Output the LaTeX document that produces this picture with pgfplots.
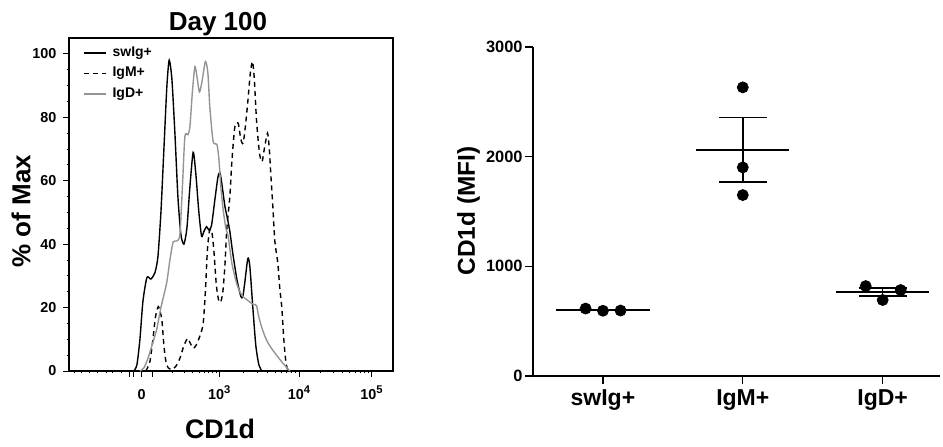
\documentclass[border=0pt]{standalone}
\usepackage{fontspec}
\setmainfont{Liberation Sans}
\usepackage{pgfplots}
\pgfplotsset{compat=1.18}

\definecolor{igdgray}{gray}{0.58}
\newcommand{\dec}[1]{10\raisebox{3.2pt}{\fontsize{5.6}{6}\selectfont #1}}

% x of the histogram is the display channel of the biexponential CD1d scale
\pgfplotstableread{
x y
134 0
137 2
140 10
143 22
147 29.5
151 29
155 31
158 36
161 50
164 70
167 90
169.3 98
172 92
175 75
178 55
181 43
184 40
187 45
190 58
193.3 69
196 62
199 50
201.7 42.5
204 44
206.7 45.5
209 44.5
211.7 46
215 54
218 61
220 62.6
222 59
225 52
227 49
230 44
233 37
237 29
241 23.5
243 23.5
245 28
248 35.5
250 33
253 20
256 8
259 2
262 0
}\swig

\pgfplotstableread{
x y
146 0
150 3
153 10
155.5 17
158.3 20.3
160 19
162 16
164 8
166 3
168.3 1
172 0.5
176 1.5
180 4
184 8
187.7 10.3
190 9
193.3 7.2
196 8
200 11
203.3 15
205.5 25
207.5 38
209.5 44
211.7 44.5
214 38
216.5 27
219 22
221 21.9
223 25
225 33
227 45
230 55
232 66
235 77
238.3 78.2
241 73
243.3 71.8
245.5 77
248 85
250.5 94
252.7 97.6
254.5 92
256.5 80
258.3 72.9
260 68
262.3 66
264.5 70
267.7 75
269.5 70
271 62
273 52
275 41
278 34
280 26
282 20
284 10
286 3
288 0
}\igm

\pgfplotstableread{
x y
140 0
144 1
148 4
152 8
156.7 13
161 20
166.7 27.7
170 35
173.3 40.7
177 41
180 43
182.5 58
185 74
188 74.5
190 77
192.5 88
195 96
197 93
199.5 88
202 91
205.5 97.6
208 94
210 83
213.3 72.3
217 71.5
219 67
221 58
223.3 50.8
226 45
228.3 42.4
232 34
236.7 27.7
240 25
243.3 23.4
247 22.5
251.7 21.3
254 21
256.7 20.6
259 17
261.7 14
265 11
268.3 8.8
272 7
276.7 5
283 2.5
290 0
}\igd

\begin{document}
\begin{tikzpicture}
\useasboundingbox (0pt,0pt) rectangle (471.5pt,-223pt);

\begin{axis}[
    at={(34.5pt,-185.5pt)},
    anchor=south west,
    scale only axis,
    width=162pt,
    height=166.5pt,
    xmin=69, xmax=393.3,
    ymin=0, ymax=105,
    axis line style={line width=0.6pt},
    tick align=outside,
    xtick pos=bottom,
    ytick pos=left,
    xtick={130,134,141.7,152.7,219.3,299.3,371.7},
    xticklabels={,,0,,\dec{3},\dec{4},\dec{5}},
    minor xtick={68,75,82,90,98,107,113,122,172.8,184.5,192.8,199.2,204.5,208.9,212.8,216.2,243.4,257.5,267.5,275.2,281.5,286.9,291.5,295.6,321.1,333.8,342.9,349.9,355.6,360.4,364.7,368.4},
    ytick={0,20,40,60,80,100},
    minor y tick num=3,
    major tick length=2.75pt,
    minor tick length=1.2pt,
    every tick/.style={black, line width=0.5pt},
    tick label style={font=\bfseries\fontsize{7.2}{8}\selectfont},
    /pgf/number format/assume math mode=true,
    xticklabel style={anchor=base, yshift=-11.5pt},
    legend style={at={(axis cs:77,104.5)}, anchor=north west, draw=none, fill=none,
        font=\bfseries\fontsize{7}{8}\selectfont, row sep=1.6pt,
        nodes={inner ysep=1.2pt, inner xsep=2.8pt}},
    legend cell align=left,
    legend image code/.code={\draw[#1, line width=0.8pt] (0pt,0pt) -- (11pt,0pt);},
]
\addplot[black, line width=0.7pt, smooth, tension=0.4] table {\swig};
\addlegendentry{swIg+}
\addplot[black, line width=0.7pt, dash pattern=on 2.5pt off 2pt, smooth, tension=0.4] table {\igm};
\addlegendentry{IgM+}
\addplot[igdgray, line width=0.7pt, smooth, tension=0.4] table {\igd};
\addlegendentry{IgD+}
\end{axis}

\node[font=\bfseries\fontsize{13}{15}\selectfont, anchor=base] at (109pt,-15pt) {Day 100};
\node[font=\bfseries\fontsize{13.4}{15}\selectfont, anchor=base] at (110pt,-219pt) {CD1d};
\node[font=\bfseries\fontsize{13}{15}\selectfont, rotate=90] at (10.5pt,-105.5pt) {\% of Max};
\node[font=\bfseries\fontsize{12.2}{14}\selectfont, rotate=90] at (234.25pt,-105.5pt) {CD1d (MFI)};

\begin{axis}[
    at={(266.5pt,-188pt)},
    anchor=south west,
    scale only axis,
    width=203.5pt,
    height=164.5pt,
    xmin=-0.5, xmax=2.41,
    ymin=0, ymax=3000,
    axis lines=left,
    axis line style={line width=0.7pt, -},
    tick align=outside,
    xtick={0,1,2},
    xticklabels={swIg+,IgM+,IgD+},
    ytick={0,1000,2000,3000},
    major tick length=4pt,
    every tick/.style={black, line width=0.7pt},
    scaled y ticks=false,
    yticklabel style={font=\bfseries\fontsize{8.2}{9}\selectfont, inner sep=1pt},
    xticklabel style={font=\bfseries\fontsize{11.5}{13}\selectfont, anchor=base, yshift=-10.5pt},
    /pgf/number format/assume math mode=true,
    /pgf/number format/1000 sep={},
]
% group means
\addplot[black, line width=0.75pt] coordinates {(-0.333,602) (0.333,602)};
\addplot[black, line width=0.75pt] coordinates {(0.667,2061) (1.333,2061)};
\addplot[black, line width=0.75pt] coordinates {(1.667,766) (2.333,766)};
% SEM: whisker and caps (mean +- 294 and mean +- 38)
\addplot[black, line width=0.75pt] coordinates {(1,1767) (1,2355)};
\addplot[black, line width=0.75pt] coordinates {(0.829,2355) (1.171,2355)};
\addplot[black, line width=0.75pt] coordinates {(0.829,1767) (1.171,1767)};
\addplot[black, line width=0.75pt] coordinates {(2,728) (2,804)};
\addplot[black, line width=0.75pt] coordinates {(1.829,804) (2.171,804)};
\addplot[black, line width=0.75pt] coordinates {(1.829,728) (2.171,728)};
% individual mice
\addplot[black, only marks, mark=*, mark size=2.75pt]
coordinates {(-0.124,615) (0,595) (0.126,597)
             (1,2632) (1,1902) (1,1650)
             (1.879,820) (2,693) (2.129,784)};
\end{axis}
\end{tikzpicture}
\end{document}
